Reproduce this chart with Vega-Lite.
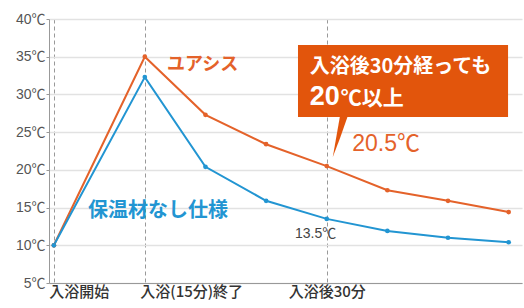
{
  "$schema": "https://vega.github.io/schema/vega-lite/v6.json",
  "width": 473,
  "height": 264,
  "autosize": "none",
  "padding": {"left": 49, "top": 19, "right": 2, "bottom": 25},
  "background": "white",
  "config": {"view": {"stroke": null}, "font": "Liberation Sans, Noto Sans CJK JP"},
  "datasets": {
    "temps": [
      {"series": "ユアシス", "minute": 0, "temp": 10},
      {"series": "ユアシス", "minute": 15, "temp": 35},
      {"series": "ユアシス", "minute": 25, "temp": 27.3},
      {"series": "ユアシス", "minute": 35, "temp": 23.4},
      {"series": "ユアシス", "minute": 45, "temp": 20.5},
      {"series": "ユアシス", "minute": 55, "temp": 17.3},
      {"series": "ユアシス", "minute": 65, "temp": 15.9},
      {"series": "ユアシス", "minute": 75, "temp": 14.4},
      {"series": "保温材なし仕様", "minute": 0, "temp": 10},
      {"series": "保温材なし仕様", "minute": 15, "temp": 32.3},
      {"series": "保温材なし仕様", "minute": 25, "temp": 20.4},
      {"series": "保温材なし仕様", "minute": 35, "temp": 15.9},
      {"series": "保温材なし仕様", "minute": 45, "temp": 13.5},
      {"series": "保温材なし仕様", "minute": 55, "temp": 11.9},
      {"series": "保温材なし仕様", "minute": 65, "temp": 11.0},
      {"series": "保温材なし仕様", "minute": 75, "temp": 10.4}
    ],
    "box": [{"x": 40.26, "x2": 74.9, "y": 36.55, "y2": 27.0}],
    "pointer": [
      {"x": 46.0, "y": 21.7, "y2": 21.7},
      {"x": 47.2, "y": 27.2, "y2": 24.24},
      {"x": 48.5, "y": 27.2, "y2": 27.2}
    ]
  },
  "layer": [
    {
      "data": {"name": "temps"},
      "mark": {"type": "line", "strokeWidth": 2},
      "encoding": {
        "x": {
          "field": "minute", "type": "quantitative",
          "scale": {"domain": [-0.8, 77.2], "nice": false, "zero": false},
          "axis": {
            "title": null, "values": [0, 15, 45], "tickCount": 20,
            "labelExpr": "datum.value == 0 ? '入浴開始' : datum.value == 15 ? '入浴(15分)終了' : '入浴後30分'",
            "labelAlign": {"condition": {"test": "datum.value == 45", "value": "center"}, "value": "left"},
            "labelOffset": {"condition": {"test": "datum.value == 45", "value": 0}, "value": -5},
            "labelFont": "Noto Sans CJK JP", "labelFontSize": 15, "labelColor": "#333", "labelFontWeight": 500,
            "labelPadding": 1, "ticks": false,
            "grid": true, "gridDash": [4, 3], "gridColor": "#999", "gridWidth": 1,
            "domainColor": "#999", "labelOverlap": false
          }
        },
        "y": {
          "field": "temp", "type": "quantitative",
          "scale": {"domain": [5, 40], "nice": false, "zero": false},
          "axis": {
            "title": null, "values": [5, 10, 15, 20, 25, 30, 35, 40], "tickCount": 20,
            "labelExpr": "datum.value + '℃'", "labelOverlap": false,
            "labelFontSize": 14, "labelColor": "#555", "labelPadding": 1,
            "tickSize": 3, "tickColor": "#999", "domainColor": "#999",
            "gridColor": "#e2e2e2", "gridWidth": 1.5
          }
        },
        "color": {
          "field": "series", "type": "nominal",
          "scale": {"domain": ["ユアシス", "保温材なし仕様"], "range": ["#e4622a", "#2295d2"]},
          "legend": null
        }
      }
    },
    {
      "data": {"name": "temps"},
      "mark": {"type": "point", "filled": true, "size": 22, "opacity": 1},
      "encoding": {
        "x": {"field": "minute", "type": "quantitative"},
        "y": {"field": "temp", "type": "quantitative"},
        "color": {"field": "series", "type": "nominal", "legend": null}
      }
    },
    {
      "data": {"name": "box"},
      "mark": {"type": "rect", "color": "#e2550c"},
      "encoding": {
        "x": {"field": "x", "type": "quantitative"},
        "x2": {"field": "x2"},
        "y": {"field": "y", "type": "quantitative"},
        "y2": {"field": "y2"}
      }
    },
    {
      "data": {"name": "pointer"},
      "mark": {"type": "area", "color": "#e2550c", "opacity": 1},
      "encoding": {
        "x": {"field": "x", "type": "quantitative"},
        "y": {"field": "y", "type": "quantitative"},
        "y2": {"field": "y2"}
      }
    },
    {
      "data": {"values": [{"label": "入浴後30分経っても", "x": 42.2, "y": 32.84}]},
      "mark": {"type": "text", "align": "left", "baseline": "alphabetic", "color": "white", "fontSize": 20, "fontWeight": "bold", "font": "Noto Sans CJK JP"},
      "encoding": {"x": {"field": "x", "type": "quantitative"}, "y": {"field": "y", "type": "quantitative"}, "text": {"field": "label"}}
    },
    {
      "data": {"values": [{"label": "20", "x": 42.2, "y": 28.6}]},
      "mark": {"type": "text", "align": "left", "baseline": "alphabetic", "color": "white", "fontSize": 27, "fontWeight": "bold", "font": "Liberation Sans"},
      "encoding": {"x": {"field": "x", "type": "quantitative"}, "y": {"field": "y", "type": "quantitative"}, "text": {"field": "label"}}
    },
    {
      "data": {"values": [{"label": "℃以上", "x": 47.3, "y": 28.6}]},
      "mark": {"type": "text", "align": "left", "baseline": "alphabetic", "color": "white", "fontSize": 21, "fontWeight": "bold", "font": "Noto Sans CJK JP"},
      "encoding": {"x": {"field": "x", "type": "quantitative"}, "y": {"field": "y", "type": "quantitative"}, "text": {"field": "label"}}
    },
    {
      "data": {"values": [{"label": "20.5℃", "x": 49.2, "y": 22.5}]},
      "mark": {"type": "text", "align": "left", "baseline": "alphabetic", "color": "#e4622a", "fontSize": 23, "font": "Liberation Sans, Noto Sans CJK JP"},
      "encoding": {"x": {"field": "x", "type": "quantitative"}, "y": {"field": "y", "type": "quantitative"}, "text": {"field": "label"}}
    },
    {
      "data": {"values": [{"label": "ユアシス", "x": 18.66, "y": 33.24}]},
      "mark": {"type": "text", "align": "left", "baseline": "alphabetic", "color": "#e4622a", "fontSize": 18, "fontWeight": "bold", "font": "Noto Sans CJK JP"},
      "encoding": {"x": {"field": "x", "type": "quantitative"}, "y": {"field": "y", "type": "quantitative"}, "text": {"field": "label"}}
    },
    {
      "data": {"values": [{"label": "保温材なし仕様", "x": 5.63, "y": 13.75}]},
      "mark": {"type": "text", "align": "left", "baseline": "alphabetic", "color": "#2295d2", "fontSize": 20, "fontWeight": "bold", "font": "Noto Sans CJK JP"},
      "encoding": {"x": {"field": "x", "type": "quantitative"}, "y": {"field": "y", "type": "quantitative"}, "text": {"field": "label"}}
    },
    {
      "data": {"values": [{"label": "13.5℃", "x": 39.77, "y": 10.97}]},
      "mark": {"type": "text", "align": "left", "baseline": "alphabetic", "color": "#444", "fontSize": 14, "font": "Liberation Sans, Noto Sans CJK JP"},
      "encoding": {"x": {"field": "x", "type": "quantitative"}, "y": {"field": "y", "type": "quantitative"}, "text": {"field": "label"}}
    }
  ]
}
